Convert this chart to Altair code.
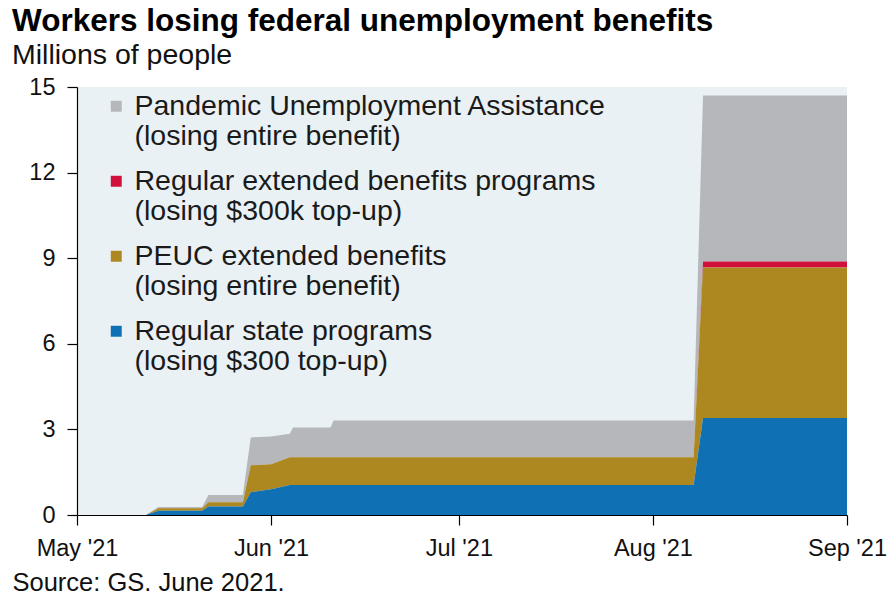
import altair as alt
import pandas as pd

# Breakpoints of the step series (each value is that program's own layer, in millions)
dates = [
    "2021-05-01", "2021-05-12", "2021-05-14", "2021-05-21", "2021-05-22",
    "2021-05-27 12:00", "2021-05-28 18:00", "2021-06-01", "2021-06-04",
    "2021-06-04 12:00", "2021-06-10 12:00", "2021-06-11", "2021-08-07 12:00",
    "2021-08-09", "2021-09-01",
]
regular_state = [0, 0, 0.15, 0.15, 0.30, 0.30, 0.80, 0.90, 1.05, 1.05, 1.05, 1.05, 1.05, 3.40, 3.40]
peuc = [0, 0, 0.09, 0.09, 0.15, 0.15, 0.94, 0.88, 0.97, 0.97, 0.97, 0.97, 0.97, 5.27, 5.27]
regular_eb = [0, 0, 0, 0, 0, 0, 0, 0, 0, 0, 0, 0, 0, 0.21, 0.21]
pua = [0, 0, 0.04, 0.04, 0.25, 0.25, 0.98, 0.97, 0.83, 1.05, 1.05, 1.29, 1.29, 5.82, 5.82]

series_names = [
    "Pandemic Unemployment Assistance|(losing entire benefit)",
    "Regular extended benefits programs|(losing $300k top-up)",
    "PEUC extended benefits|(losing entire benefit)",
    "Regular state programs|(losing $300 top-up)",
]
series_values = [pua, regular_eb, peuc, regular_state]
stack_order = [4, 3, 2, 1]
colors = ["#b5b7ba", "#d2103c", "#ad8720", "#0f71b4"]
y_ticks = [0, 3, 6, 9, 12, 15]

rows = []
for name, vals, order in zip(series_names, series_values, stack_order):
    for d, v in zip(dates, vals):
        rows.append({"date": pd.Timestamp(d), "series": name, "value": v, "order": order})
df = pd.DataFrame(rows)

FONT = "Liberation Sans"

chart = alt.Chart(df).mark_area(interpolate="linear", strokeWidth=0).encode(
    x=alt.X(
        "date:T",
        scale=alt.Scale(domain=[alt.DateTime(year=2021, month=5, date=1),
                                alt.DateTime(year=2021, month=9, date=1)]),
        axis=alt.Axis(
            format="%b '%y", tickCount={"interval": "month", "step": 1},
            labelFlush=False, grid=False, tickSize=10, labelPadding=11,
            title="Source: GS. June 2021.", titleX=-65, titleY=75,
            titleAlign="left", titleBaseline="alphabetic", titleFontWeight="normal",
            titleFontSize=25.5, titleFont=FONT, titleColor="#111111",
        ),
    ),
    y=alt.Y(
        "value:Q", stack="zero",
        scale=alt.Scale(domain=[0, 15], nice=False),
        axis=alt.Axis(values=y_ticks, grid=False, tickSize=10, labelPadding=12, title=None),
    ),
    color=alt.Color(
        "series:N",
        scale=alt.Scale(domain=series_names, range=colors),
        legend=alt.Legend(
            orient="none", legendX=25, legendY=5, title=None,
            symbolType="square", symbolSize=120, symbolStrokeWidth=0,
            labelFontSize=28.5, labelFont=FONT, labelColor="#1a1a1a",
            labelExpr="split(datum.label, '|')", labelLimit=0,
            rowPadding=16, labelOffset=4,
        ),
    ),
    order=alt.Order("order:Q", sort="ascending"),
).properties(
    width=770, height=428,
    autosize=alt.AutoSizeParams(type="none"),
    padding={"left": 77, "top": 87, "right": 43, "bottom": 81},
    title=alt.Title(
        "Workers losing federal unemployment benefits",
        subtitle="Millions of people",
        anchor="start", frame="group", dx=-65, offset=6,
        font=FONT, fontSize=31.5, fontWeight="bold", color="#000000",
        subtitleFont=FONT, subtitleFontSize=28.5, subtitleColor="#111111", subtitlePadding=3,
    ),
).configure(
    background="#ffffff",
    style={"guide-label": {"lineHeight": 30}},
).configure_view(
    fill="#e9f1f5", stroke=None,
).configure_axis(
    labelFont=FONT, labelFontSize=23.5, labelColor="#111111",
    domainColor="#000000", tickColor="#000000", domainWidth=1.2, tickWidth=1.2,
)

chart.save("out.html", embed_options={"renderer": "svg", "actions": False})
